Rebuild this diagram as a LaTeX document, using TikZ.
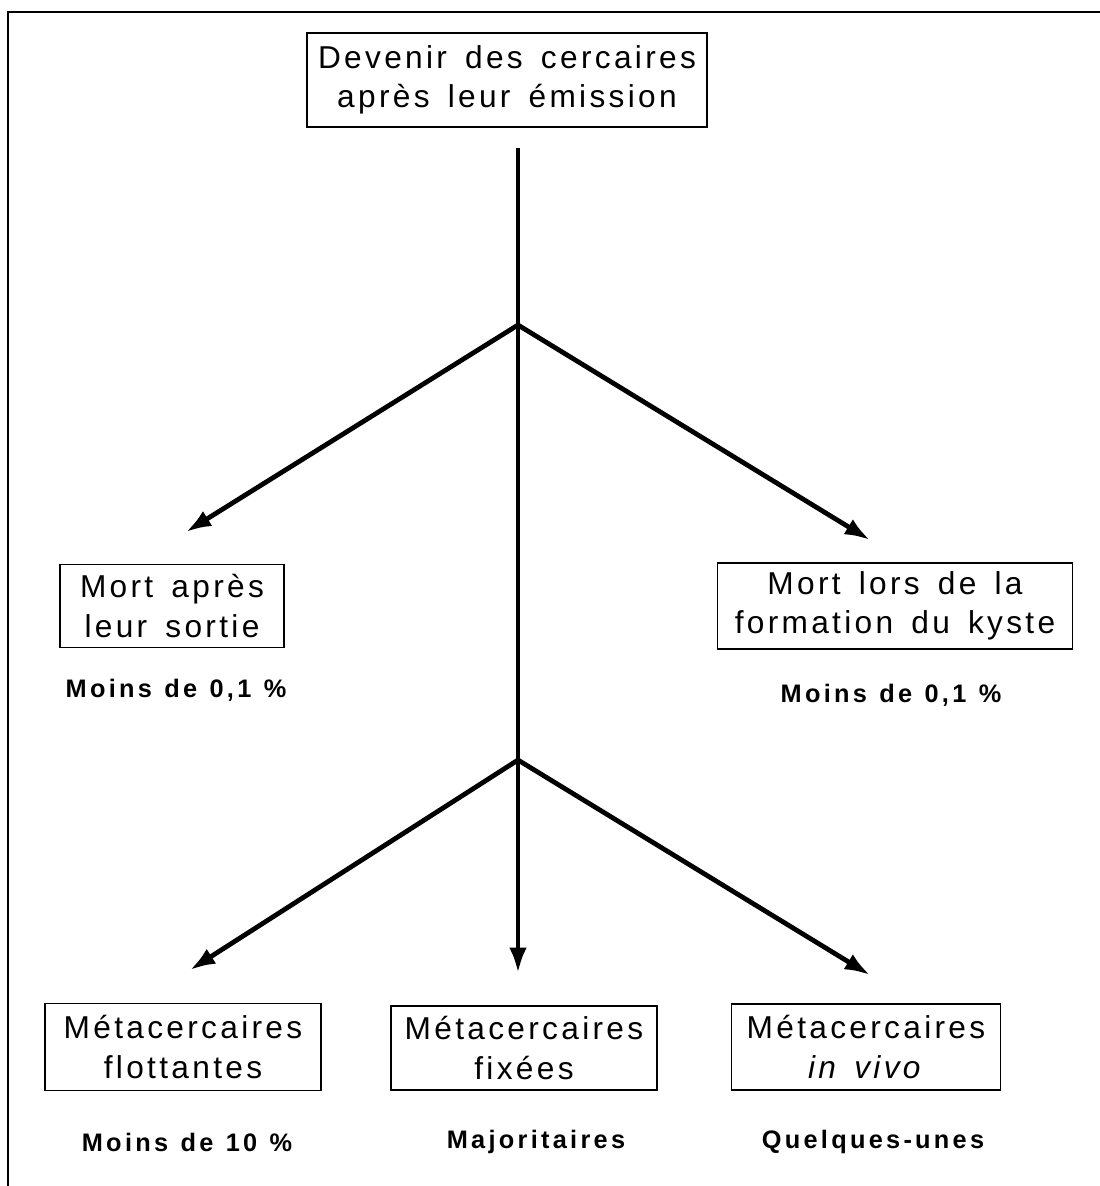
\documentclass[tikz,border=0pt]{standalone}
\usepackage{fontspec}
\usetikzlibrary{arrows.meta}

\newfontfamily\boxfont[LetterSpace = 10.5, WordSpace = 1.5]{Liberation Sans}
\newfontfamily\notefont[LetterSpace = 13, WordSpace = 1.2]{Liberation Sans}

\tikzset{
	cbox/.style = {draw, line width = 1pt, align = center, inner sep = 0pt,
		font = \boxfont\fontsize{22.5}{28}\selectfont},
	note/.style = {inner sep = 0pt, font = \notefont\bfseries\fontsize{18}{20}\selectfont},
	branch/.style = {->, line width = 3.4pt}
}

\begin{document}
\begin{tikzpicture}[x = 0.025cm, y = -0.025cm, > = {Latex[length = 18pt, width = 12.5pt]}]

	\useasboundingbox (0, 0) rectangle (1100, 1186);

	% Frame (left and top sides only)
	
	\draw [line width = 2pt] (8, 1186) -- (8, 12) -- (1100, 12);

	% Boxes
	
	\node [cbox, minimum width = 10cm, minimum height = 2.35cm] (emission) at (507, 80) {Devenir des cercaires\\apr\`es leur \'emission};
	\node [cbox, minimum width = 5.6cm, minimum height = 2.075cm] (sortie) at (172, 606) {Mort apr\`es\\leur sortie};
	\node [cbox, minimum width = 8.875cm, minimum height = 2.15cm] (kyste) at (895, 606) {Mort lors de la\\formation du kyste};
	\node [cbox, minimum width = 6.9cm, minimum height = 2.175cm] (flottantes) at (183, 1047) {M\'etacercaires\\flottantes};
	\node [cbox, minimum width = 6.65cm, minimum height = 2.1cm] (fixees) at (524, 1048) {M\'etacercaires\\fix\'ees};
	\node [cbox, minimum width = 6.725cm, minimum height = 2.15cm] (invivo) at (866, 1047) {M\'etacercaires\\\textit{in vivo}};

	% Proportions
	
	\node [note] (n-sortie) at (176, 690) {Moins de 0,1 \%};
	\node [note] (n-kyste) at (891, 695) {Moins de 0,1 \%};
	\node [note] (n-flottantes) at (187, 1142) {Moins de 10 \%};
	\node [note] (n-fixees) at (536, 1142) {Majoritaires};
	\node [note] (n-invivo) at (873, 1142) {Quelques-unes};

	% Branch points and arrow ends
	
	\coordinate (stem) at (518, 148);
	\coordinate (fork1) at (518, 325);
	\coordinate (fork2) at (518, 760);
	\coordinate (to-sortie) at (186, 532);
	\coordinate (to-kyste) at (870, 540);
	\coordinate (to-flottantes) at (190, 970);
	\coordinate (to-fixees) at (518, 973);
	\coordinate (to-invivo) at (870, 975);

	% Arrows
	
	\draw [branch] (stem) -- (to-fixees);
	\draw [branch] (fork1) -- (to-sortie);
	\draw [branch] (fork1) -- (to-kyste);
	\draw [branch] (fork2) -- (to-flottantes);
	\draw [branch] (fork2) -- (to-invivo);

\end{tikzpicture}
\end{document}
